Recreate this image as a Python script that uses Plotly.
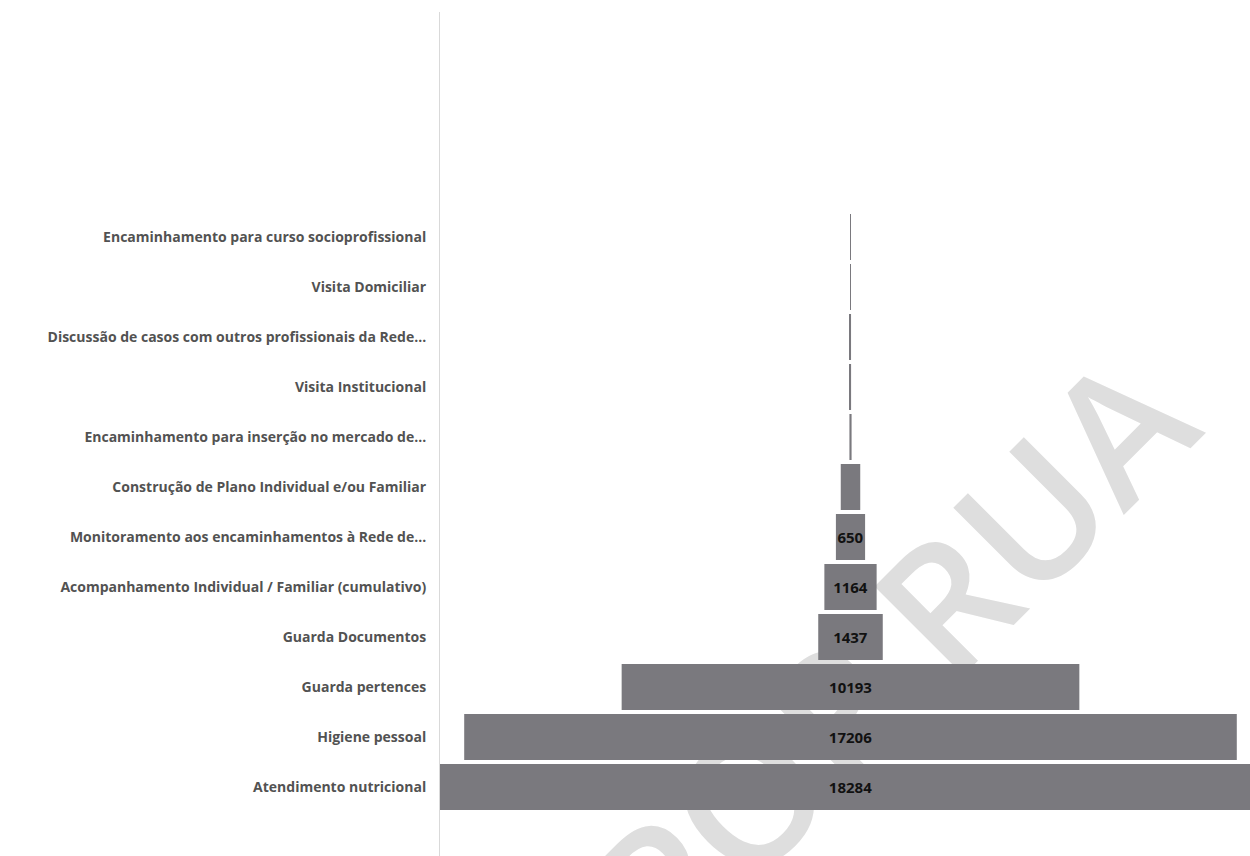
import plotly.graph_objects as go

categories = [
    "Encaminhamento para curso socioprofissional",
    "Visita Domiciliar",
    "Discussão de casos com outros profissionais da Rede...",
    "Visita Institucional",
    "Encaminhamento para inserção no mercado de...",
    "Construção de Plano Individual e/ou Familiar",
    "Monitoramento aos encaminhamentos à Rede de...",
    "Acompanhamento Individual / Familiar (cumulativo)",
    "Guarda Documentos",
    "Guarda pertences",
    "Higiene pessoal",
    "Atendimento nutricional",
]
values = [20, 22, 24, 26, 48, 434, 650, 1164, 1437, 10193, 17206, 18284]
label_threshold = 600
labels = [str(v) if v >= label_threshold else "" for v in values]

fig = go.Figure(
    go.Funnel(
        y=categories,
        x=values,
        text=labels,
        textinfo="text",
        textposition="inside",
        insidetextanchor="middle",
        constraintext="none",
        textfont=dict(family="Open Sans", size=15, color="#111111", weight="bold"),
        marker=dict(color="#7a797e", line=dict(width=0)),
        connector=dict(visible=False),
        hoverinfo="y+x",
    )
)

fig.add_shape(
    type="rect",
    xref="paper", yref="paper",
    x0=0.49, x1=0.64, y0=0.18, y1=0.28,
    line=dict(width=0),
    fillcolor="rgba(0,0,0,0)",
    layer="below",
    label=dict(
        text="POP RUA",
        textangle=-45,
        textposition="middle center",
        font=dict(family="Open Sans", size=176, color="#dedede", weight=600),
    ),
)

fig.update_layout(
    width=1250,
    height=856,
    margin=dict(l=440, r=0, t=12, b=0),
    paper_bgcolor="white",
    plot_bgcolor="white",
    funnelgap=0.08,
    showlegend=False,
    xaxis=dict(visible=False, range=[-9142, 8897], fixedrange=True),
    yaxis=dict(
        range=[12.38, -4.5],
        showgrid=False,
        zeroline=False,
        showline=True,
        linecolor="#d9d9d9",
        linewidth=1,
        ticks="",
        ticklabelstandoff=10,
        automargin=False,
        tickfont=dict(family="Open Sans", size=14, color="#525252", weight="bold"),
    ),
)

fig.write_html("out.html")
